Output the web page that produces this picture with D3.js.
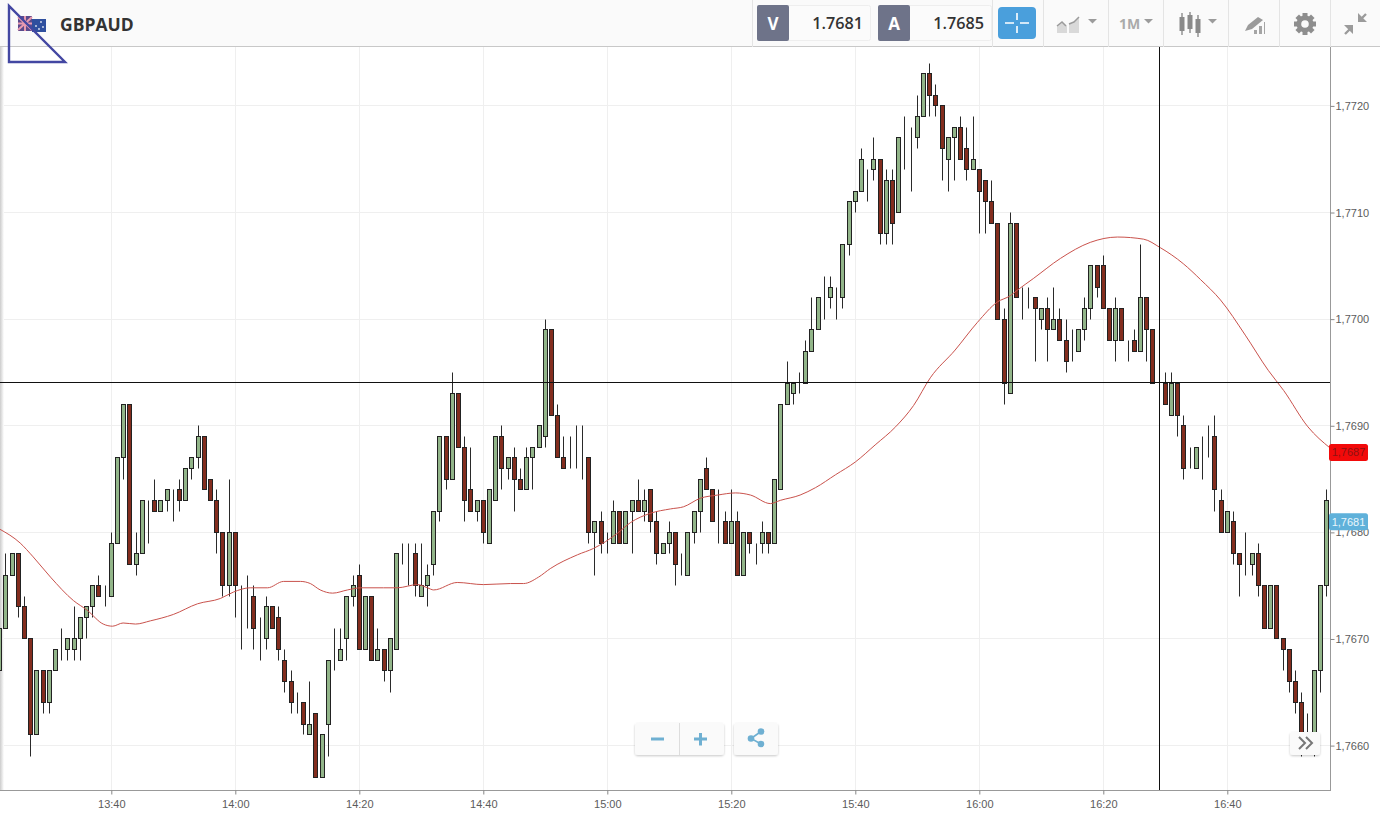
<!DOCTYPE html>
<html>
<head>
<meta charset="utf-8">
<title>GBPAUD</title>
<script src="https://d3js.org/d3.v7.min.js"></script>
<style>
html,body{margin:0;padding:0;background:#fff;overflow:hidden}
svg{display:block}
.axis text{font-family:"Liberation Sans",Arial,sans-serif;font-size:11px;fill:#5c5c5c}
.axis line{stroke:#888}
.axis path{stroke:#999}
</style>
</head>
<body>
<script>
var symbol="GBPAUD";
var bid="1.7681", ask="1.7685";
var timeframe="1M";
var startTime=new Date(2017,0,2,13,22);

// one minute candles from 13:22
var opens=[
1.7667,1.7671,1.7676,1.7678,1.7673,1.7670,1.7661,1.7667,1.7664,1.7667,
1.7669,1.7669,1.7669,1.7670,1.7672,1.7673,1.7675,1.7675,1.7674,1.7679,
1.7687,1.7692,1.7677,1.7678,1.7683,1.7683,1.7682,1.7683,1.7684,1.7684,
1.7683,1.7686,1.7687,1.7689,1.7685,1.7683,1.7680,1.7675,1.7680,1.7674,
1.7674,1.7674,1.7670,1.7670,1.7673,1.7672,1.7668,1.7666,1.7664,1.7664,
1.7661,1.7663,1.7657,1.7662,1.7668,1.7668,1.7670,1.7674,1.7676,1.7669,
1.7674,1.7668,1.7669,1.7667,1.7669,1.7678,1.7678,1.7678,1.7674,1.7675,
1.7677,1.7682,1.7689,1.7685,1.7693,1.7688,1.7684,1.7682,1.7683,1.7679,
1.7683,1.7689,1.7686,1.7687,1.7685,1.7684,1.7687,1.7688,1.7689,1.7699,
1.7691,1.7687,1.7686,1.7687,1.7687,1.7687,1.7680,1.7681,1.7679,1.7679,
1.7682,1.7679,1.7682,1.7683,1.7682,1.7684,1.7681,1.7678,1.7679,1.7680,
1.7676,1.7676,1.7680,1.7682,1.7686,1.7684,1.7681,1.7681,1.7679,1.7681,
1.7676,1.7680,1.7679,1.7679,1.7680,1.7679,1.7684,1.7692,1.7693,1.7694,
1.7694,1.7697,1.7699,1.7702,1.7702,1.7702,1.7702,1.7707,1.7711,1.7712,
1.7714,1.7714,1.7715,1.7708,1.7713,1.7710,1.7717,1.7717,1.7717,1.7719,
1.7723,1.7721,1.7720,1.7715,1.7717,1.7718,1.7716,1.7714,1.7714,1.7713,
1.7711,1.7709,1.7700,1.7693,1.7709,1.7702,1.7702,1.7702,1.7700,1.7701,
1.7699,1.7700,1.7698,1.7697,1.7697,1.7699,1.7701,1.7705,1.7705,1.7701,
1.7698,1.7701,1.7698,1.7698,1.7697,1.7702,1.7699,1.7694,1.7694,1.7691,
1.7694,1.7690,1.7686,1.7686,1.7689,1.7689,1.7689,1.7683,1.7680,1.7681,
1.7678,1.7677,1.7677,1.7678,1.7675,1.7671,1.7675,1.7670,1.7669,1.7666,
1.7664,1.7661,1.7660,1.7667,1.7675];
var highs=[
1.7671,1.7678,1.7678,1.7678,1.7674,1.7670,1.7667,1.7667,1.7667,1.7669,
1.7671,1.7670,1.7673,1.7672,1.7673,1.7675,1.7676,1.7675,1.7680,1.7687,
1.7692,1.7692,1.7680,1.7683,1.7683,1.7685,1.7683,1.7684,1.7684,1.7685,
1.7686,1.7687,1.7690,1.7689,1.7685,1.7684,1.7680,1.7685,1.7680,1.7675,
1.7676,1.7675,1.7672,1.7674,1.7673,1.7673,1.7669,1.7667,1.7665,1.7664,
1.7666,1.7663,1.7661,1.7668,1.7671,1.7671,1.7674,1.7676,1.7677,1.7674,
1.7674,1.7671,1.7669,1.7670,1.7678,1.7679,1.7679,1.7679,1.7679,1.7677,
1.7682,1.7689,1.7689,1.7695,1.7693,1.7689,1.7688,1.7683,1.7683,1.7684,
1.7689,1.7690,1.7687,1.7688,1.7686,1.7688,1.7688,1.7690,1.7700,1.7699,
1.7692,1.7689,1.7689,1.7690,1.7690,1.7687,1.7681,1.7682,1.7680,1.7683,
1.7682,1.7682,1.7683,1.7685,1.7684,1.7684,1.7682,1.7679,1.7681,1.7680,
1.7678,1.7680,1.7682,1.7685,1.7687,1.7684,1.7684,1.7682,1.7684,1.7682,
1.7680,1.7680,1.7679,1.7681,1.7680,1.7685,1.7692,1.7696,1.7694,1.7695,
1.7698,1.7702,1.7702,1.7704,1.7704,1.7703,1.7707,1.7711,1.7712,1.7716,
1.7714,1.7717,1.7715,1.7714,1.7714,1.7717,1.7719,1.7718,1.7721,1.7723,
1.7724,1.7722,1.7720,1.7717,1.7718,1.7719,1.7718,1.7719,1.7714,1.7713,
1.7713,1.7709,1.7701,1.7710,1.7709,1.7703,1.7703,1.7702,1.7701,1.7702,
1.7703,1.7701,1.7700,1.7699,1.7699,1.7702,1.7705,1.7705,1.7706,1.7701,
1.7702,1.7701,1.7698,1.7699,1.7707,1.7702,1.7699,1.7694,1.7695,1.7695,
1.7694,1.7691,1.7688,1.7688,1.7689,1.7690,1.7691,1.7684,1.7682,1.7682,
1.7678,1.7680,1.7678,1.7679,1.7675,1.7675,1.7675,1.7670,1.7669,1.7667,
1.7665,1.7663,1.7667,1.7675,1.7684];
var lows=[
1.7667,1.7671,1.7676,1.7672,1.7670,1.7659,1.7661,1.7663,1.7663,1.7667,
1.7668,1.7668,1.7668,1.7668,1.7670,1.7672,1.7674,1.7673,1.7674,1.7679,
1.7685,1.7677,1.7676,1.7678,1.7679,1.7682,1.7682,1.7682,1.7681,1.7682,
1.7683,1.7685,1.7686,1.7684,1.7683,1.7678,1.7674,1.7674,1.7672,1.7669,
1.7671,1.7669,1.7668,1.7669,1.7671,1.7668,1.7665,1.7663,1.7663,1.7661,
1.7661,1.7657,1.7657,1.7659,1.7667,1.7668,1.7668,1.7673,1.7669,1.7669,
1.7668,1.7668,1.7666,1.7665,1.7669,1.7677,1.7675,1.7674,1.7674,1.7673,
1.7676,1.7681,1.7684,1.7685,1.7688,1.7681,1.7682,1.7681,1.7679,1.7679,
1.7683,1.7684,1.7685,1.7682,1.7684,1.7684,1.7684,1.7688,1.7688,1.7691,
1.7687,1.7686,1.7686,1.7686,1.7685,1.7679,1.7676,1.7678,1.7678,1.7679,
1.7679,1.7679,1.7678,1.7682,1.7681,1.7680,1.7677,1.7678,1.7678,1.7675,
1.7676,1.7676,1.7679,1.7680,1.7684,1.7681,1.7679,1.7679,1.7679,1.7676,
1.7676,1.7678,1.7677,1.7678,1.7678,1.7679,1.7684,1.7692,1.7692,1.7693,
1.7694,1.7697,1.7699,1.7700,1.7701,1.7700,1.7701,1.7706,1.7710,1.7712,
1.7711,1.7713,1.7707,1.7707,1.7707,1.7710,1.7714,1.7712,1.7716,1.7719,
1.7719,1.7719,1.7713,1.7712,1.7713,1.7715,1.7713,1.7714,1.7708,1.7708,
1.7709,1.7700,1.7692,1.7693,1.7702,1.7700,1.7701,1.7696,1.7699,1.7696,
1.7699,1.7698,1.7695,1.7696,1.7697,1.7698,1.7700,1.7702,1.7701,1.7698,
1.7696,1.7698,1.7696,1.7697,1.7697,1.7696,1.7694,1.7694,1.7692,1.7691,
1.7689,1.7685,1.7686,1.7686,1.7685,1.7687,1.7682,1.7680,1.7680,1.7677,
1.7674,1.7676,1.7676,1.7674,1.7671,1.7671,1.7670,1.7667,1.7665,1.7663,
1.7659,1.7660,1.7659,1.7665,1.7674];
var closes=[
1.7671,1.7676,1.7678,1.7673,1.7670,1.7661,1.7667,1.7664,1.7667,1.7669,
1.7669,1.7670,1.7670,1.7672,1.7673,1.7675,1.7674,1.7675,1.7679,1.7687,
1.7692,1.7677,1.7678,1.7683,1.7683,1.7682,1.7683,1.7684,1.7684,1.7683,
1.7686,1.7687,1.7689,1.7684,1.7683,1.7680,1.7675,1.7680,1.7675,1.7674,
1.7674,1.7671,1.7670,1.7673,1.7671,1.7669,1.7666,1.7664,1.7664,1.7662,
1.7662,1.7657,1.7661,1.7668,1.7668,1.7669,1.7674,1.7675,1.7669,1.7674,
1.7668,1.7669,1.7667,1.7670,1.7678,1.7678,1.7678,1.7675,1.7675,1.7676,
1.7682,1.7689,1.7685,1.7693,1.7688,1.7683,1.7682,1.7683,1.7680,1.7684,
1.7689,1.7686,1.7687,1.7685,1.7684,1.7687,1.7688,1.7690,1.7699,1.7691,
1.7687,1.7686,1.7686,1.7687,1.7687,1.7680,1.7681,1.7679,1.7679,1.7682,
1.7679,1.7682,1.7683,1.7682,1.7683,1.7681,1.7678,1.7679,1.7680,1.7677,
1.7676,1.7680,1.7682,1.7685,1.7684,1.7681,1.7681,1.7679,1.7681,1.7676,
1.7680,1.7679,1.7679,1.7680,1.7679,1.7685,1.7692,1.7694,1.7694,1.7694,
1.7697,1.7699,1.7702,1.7702,1.7703,1.7702,1.7707,1.7711,1.7712,1.7715,
1.7714,1.7715,1.7708,1.7713,1.7709,1.7717,1.7717,1.7717,1.7719,1.7723,
1.7721,1.7720,1.7716,1.7717,1.7718,1.7715,1.7714,1.7715,1.7712,1.7711,
1.7709,1.7700,1.7694,1.7709,1.7702,1.7702,1.7702,1.7701,1.7701,1.7699,
1.7700,1.7698,1.7696,1.7697,1.7699,1.7701,1.7705,1.7703,1.7701,1.7698,
1.7701,1.7698,1.7698,1.7697,1.7702,1.7699,1.7694,1.7694,1.7692,1.7694,
1.7691,1.7686,1.7686,1.7688,1.7689,1.7689,1.7684,1.7680,1.7682,1.7678,
1.7677,1.7677,1.7678,1.7675,1.7671,1.7675,1.7670,1.7669,1.7666,1.7664,
1.7661,1.7661,1.7667,1.7675,1.7683];

var maMinutes=[0,3.3,5.4,8.2,11.9,14.1,16.7,18.2,19.9,21.9,24.3,28,31.9,35.6,37.7,40.4,43.2,45.8,48.5,50.1,51.7,53.7,56.1,58.2,61.9,64.1,67.4,69,70,73.8,78,82.4,84.5,86.9,88.8,93.2,95.8,99.6,101.7,105,108.2,110.3,113,115.8,118.7,121.1,124.3,125.9,129.1,131.6,134.8,138,141.2,144.5,147.4,150.1,154.1,157.7,160.9,163,164.1,166.7,171.1,175.9,180.3,184.5,187.2,190.9,193.7,196.9,200.9,204.6,207.1,211,214.6];
var maValues=[1.76803,1.76790,1.76777,1.76758,1.76736,1.76727,1.76714,1.76712,1.76715,1.76714,1.76717,1.76723,1.76733,1.76738,1.76744,1.76748,1.76748,1.76754,1.76754,1.76752,1.76746,1.76743,1.76746,1.76748,1.76748,1.76748,1.76751,1.76748,1.76746,1.76753,1.76751,1.76752,1.76752,1.76758,1.76766,1.76779,1.76785,1.76799,1.76809,1.76818,1.76822,1.76824,1.76832,1.76835,1.76837,1.76835,1.76827,1.76830,1.76835,1.76842,1.76854,1.76866,1.76882,1.76899,1.76919,1.76945,1.76971,1.76997,1.77016,1.77022,1.77027,1.77038,1.77057,1.77072,1.77077,1.77075,1.77067,1.77052,1.77037,1.77018,1.76985,1.76952,1.76933,1.76899,1.76879];

var priceTicks=[1.7660,1.7670,1.7680,1.7690,1.7700,1.7710,1.7720];
var timeTicks=["13:40","14:00","14:20","14:40","15:00","15:20","15:40","16:00","16:20","16:40"];
var crossPrice=1.76941, crossMinute=187;
var maTag=["1,7687",1.76875], bidTag=["1,7681",1.7681];

var W=1380,H=822,chartTop=47,chartBottom=791,chartRight=1330.5;

var svg=d3.select("body").append("svg").attr("width",W).attr("height",H);
var defs=svg.append("defs");
defs.append("clipPath").attr("id","plot").append("rect")
    .attr("x",0).attr("y",chartTop).attr("width",chartRight).attr("height",chartBottom-chartTop);
var fade=defs.append("linearGradient").attr("id","fade");
fade.append("stop").attr("offset",0).attr("stop-color","#ccc");
fade.append("stop").attr("offset",1).attr("stop-color","#fff");
var blur=defs.append("filter").attr("id","soft").attr("x","-20%").attr("y","-20%").attr("width","140%").attr("height","150%");
blur.append("feDropShadow").attr("dx",0).attr("dy",1).attr("stdDeviation",1).attr("flood-color","#000").attr("flood-opacity",.22);

function minutes(i){return new Date(startTime.getTime()+i*60000);}
function parseTick(s){var p=s.split(":");return new Date(2017,0,2,+p[0],+p[1]);}
function px(v){return Math.floor(v)+.5;}

var x=d3.scaleTime().domain([minutes(0),minutes(214)]).range([-0.3,1326.5]);
var y=d3.scaleLinear().domain([1.7660,1.7720]).range([745.6,105.9]);

// grid
var grid=svg.append("g");
grid.selectAll("line.h").data(priceTicks).enter().append("line").attr("class","h")
    .attr("x1",0).attr("x2",chartRight)
    .attr("y1",function(d){return px(y(d));}).attr("y2",function(d){return px(y(d));})
    .attr("stroke","#efefef");
grid.selectAll("line.v").data(timeTicks).enter().append("line").attr("class","v")
    .attr("y1",chartTop).attr("y2",chartBottom)
    .attr("x1",function(d){return px(x(parseTick(d)));}).attr("x2",function(d){return px(x(parseTick(d)));})
    .attr("stroke","#efefef");
svg.append("rect").attr("x",0).attr("y",chartTop).attr("width",4).attr("height",chartBottom-chartTop).attr("fill","url(#fade)");

// candles
var candles=svg.append("g").attr("clip-path","url(#plot)");
var c=candles.selectAll("g").data(opens).enter().append("g")
    .attr("transform",function(d,i){return "translate("+px(x(minutes(i)))+",0)";});
c.append("line").attr("y1",function(d,i){return px(y(highs[i]));}).attr("y2",function(d,i){return px(y(lows[i]));})
    .attr("stroke","#2a2a2a").attr("stroke-width",1);
c.append("rect").attr("x",-2).attr("width",4)
    .attr("y",function(d,i){return px(y(Math.max(opens[i],closes[i])));})
    .attr("height",function(d,i){return Math.abs(px(y(opens[i]))-px(y(closes[i])));})
    .attr("fill",function(d,i){return closes[i]>=opens[i]?"#92b589":"#832d1e";})
    .attr("stroke","#222").attr("stroke-width",1);

// moving average
var line=d3.line().curve(d3.curveMonotoneX)
    .x(function(d,i){return x(minutes(maMinutes[i]));})
    .y(function(d){return y(d);});
svg.append("path").datum(maValues).attr("clip-path","url(#plot)")
    .attr("d",line).attr("fill","none").attr("stroke","#c9524c").attr("stroke-width",1);

// crosshair
svg.append("line").attr("x1",0).attr("x2",chartRight)
    .attr("y1",px(y(crossPrice))).attr("y2",px(y(crossPrice))).attr("stroke","#111");
svg.append("line").attr("y1",chartTop).attr("y2",chartBottom)
    .attr("x1",px(x(minutes(crossMinute)))).attr("x2",px(x(minutes(crossMinute)))).attr("stroke","#111");

// axes
var fmt=function(d){return d3.format(".4f")(d).replace(".",",");};
var yAxis=d3.axisRight(y).tickValues(priceTicks).tickFormat(fmt).tickSize(4).tickPadding(1);
var yg=svg.append("g").attr("class","axis").attr("transform","translate("+chartRight+",0)").call(yAxis);
yg.select("path").attr("d","M0,"+chartTop+"V"+chartBottom);
var xAxis=d3.axisBottom(x).tickValues(timeTicks.map(parseTick)).tickFormat(d3.timeFormat("%H:%M")).tickSize(4).tickPadding(6);
var xg=svg.append("g").attr("class","axis").attr("transform","translate(0,"+(chartBottom-.5)+")").call(xAxis);
xg.select("path").attr("d","M0,0H"+chartRight);

// price tags
function priceTag(tag,fill,txt){
    var cy=y(tag[1]);
    svg.append("rect").attr("x",1329).attr("y",cy-8.5).attr("width",39).attr("height",17).attr("rx",2.5).attr("fill",fill);
    svg.append("text").attr("x",1348.5).attr("y",cy+4).attr("text-anchor","middle")
        .attr("font-family","Liberation Sans").attr("font-size",11).attr("fill",txt).text(tag[0]);
}
priceTag(maTag,"#f20a0a","#8e1212");
priceTag(bidTag,"#5fb1da","#eaf6fc");

// header bar
var head=svg.append("g");
head.append("rect").attr("width",W).attr("height",chartTop).attr("fill","#fafafa");
head.append("line").attr("x1",0).attr("x2",W).attr("y1",chartTop-.5).attr("y2",chartTop-.5).attr("stroke","#c8c8c8");
[752,992,1043,1108,1163,1228,1279,1330].forEach(function(s){
    head.append("line").attr("x1",s+.5).attr("x2",s+.5).attr("y1",0).attr("y2",chartTop).attr("stroke","#e4e4e4");
});
// flag
head.append("rect").attr("x",18).attr("y",16).attr("width",14).attr("height",15).attr("fill","#5a4a8c");
head.append("path").attr("d","M18,17L32,30M32,17L18,30M25,16V31M18,23.5H32").attr("stroke","#e89ab0").attr("stroke-width",2);
head.append("rect").attr("x",32).attr("y",19).attr("width",14).attr("height",13).attr("fill","#2f4f9e");
[[36,26],[41,22],[43,27],[39,29]].forEach(function(s){
    head.append("circle").attr("cx",s[0]).attr("cy",s[1]).attr("r",.9).attr("fill","#dfe3f2");
});
head.append("text").attr("x",60).attr("y",30.5).attr("font-family","Open Sans").attr("font-weight",700)
    .attr("font-size",17.5).attr("fill","#333").text(symbol);
// V and A boxes
[["V",bid,757],["A",ask,878]].forEach(function(b){
    head.append("rect").attr("x",b[2]+.5).attr("y",5.5).attr("width",113).attr("height",35).attr("rx",2).attr("fill","#fbfbfb").attr("stroke","#eee");
    head.append("rect").attr("x",b[2]).attr("y",5).attr("width",32).attr("height",36).attr("rx",2).attr("fill","#6e7389");
    head.append("text").attr("x",b[2]+16).attr("y",30).attr("text-anchor","middle").attr("font-family","Open Sans")
        .attr("font-weight",700).attr("font-size",17).attr("fill","#fff").text(b[0]);
    head.append("text").attr("x",b[2]+106).attr("y",29).attr("text-anchor","end").attr("font-family","Open Sans")
        .attr("font-weight",600).attr("font-size",16.2).attr("fill","#333").text(b[1]);
});
head.append("rect").attr("x",998).attr("y",7).attr("width",38).attr("height",32).attr("rx",4).attr("fill","#4a9fdc");
head.append("path").attr("d","M1005,23H1014M1020,23H1029M1017,13V20M1017,26V33").attr("stroke","#fff").attr("stroke-width",1.6);
// toolbar icons
var gr="#9b9b9b";
function caret(cx){head.append("path").attr("d","M"+cx+",19h9l-4.5,4.5z").attr("fill",gr);}
head.append("path").attr("d","M1057,33V26L1062,22L1067,26V33Z").attr("fill","#d9d9d9");
head.append("path").attr("d","M1069,33V24L1074,23L1079,18V33Z").attr("fill","#d9d9d9");
head.append("path").attr("d","M1057,26L1062,22L1066,26M1069,24L1074,22L1079,17").attr("stroke",gr).attr("stroke-width",1.5).attr("fill","none");
caret(1088);
head.append("text").attr("x",1119).attr("y",29).attr("font-family","Open Sans").attr("font-weight",700).attr("font-size",14).attr("fill","#aaa").text(timeframe);
caret(1144);
[[1182,17,31,13,35],[1190,15,29,12,33],[1198,19,33,15,37]].forEach(function(k){
    head.append("line").attr("x1",k[0]).attr("x2",k[0]).attr("y1",k[3]).attr("y2",k[4]).attr("stroke","#8a8a8a").attr("stroke-width",1.4);
    head.append("rect").attr("x",k[0]-2.5).attr("y",k[1]).attr("width",5).attr("height",k[2]-k[1]).attr("fill","#8a8a8a");
});
caret(1208);
// pencil with signal bars
head.append("path").attr("d","M1245,31L1248,25L1258,17L1263,20L1252,29Z").attr("fill",gr);
head.append("path").attr("d","M1254,34V30H1257V34ZM1259,34V26H1262V34ZM1264,34V22H1265V34Z").attr("fill","#a5a5a5");
// gear
var gear=head.append("g").attr("transform","translate(1305,24)");
d3.range(4).forEach(function(i){
    gear.append("rect").attr("x",-2.5).attr("y",-11).attr("width",5).attr("height",22).attr("fill","#8e8e8e")
        .attr("transform","rotate("+(i*45)+")");
});
gear.append("circle").attr("r",8.5).attr("fill","#8e8e8e");
gear.append("circle").attr("r",3.8).attr("fill","#fafafa");
// collapse arrows
head.append("path").attr("d","M1345,34L1352,27M1359,21L1366,14").attr("stroke",gr).attr("stroke-width",2.4);
head.append("path").attr("d","M1344,25H1353V34ZM1358,13V22H1367Z").attr("fill",gr);

// triangle drawn over the chart
svg.append("path").attr("d","M9,6V62H65Z").attr("fill","none").attr("stroke","#4347a2").attr("stroke-width",2.4);

// zoom buttons
function button(bx,by,bw,bh){
    svg.append("rect").attr("x",bx).attr("y",by).attr("width",bw).attr("height",bh).attr("rx",3)
        .attr("fill","#fafafa").attr("filter","url(#soft)");
}
var blue="#6fb0d2";
button(635,723,89,32);
svg.append("line").attr("x1",679.5).attr("x2",679.5).attr("y1",723).attr("y2",755).attr("stroke","#ddd");
svg.append("path").attr("d","M651,739H664").attr("stroke",blue).attr("stroke-width",3);
svg.append("path").attr("d","M694,739H707M700.5,733V745.5").attr("stroke",blue).attr("stroke-width",3);
button(734,723,44,32);
svg.append("path").attr("d","M761,731.5L751,738.5L761,744").attr("stroke",blue).attr("stroke-width",1.6).attr("fill","none");
[[761,731.5],[751,738.5],[761,744]].forEach(function(p){
    svg.append("circle").attr("cx",p[0]).attr("cy",p[1]).attr("r",3.3).attr("fill",blue);
});
button(1290,732,30,23);
svg.append("path").attr("d","M1299,737L1305,743L1299,749M1306,737L1312,743L1306,749").attr("fill","none").attr("stroke","#777").attr("stroke-width",2);
</script>
</body>
</html>
